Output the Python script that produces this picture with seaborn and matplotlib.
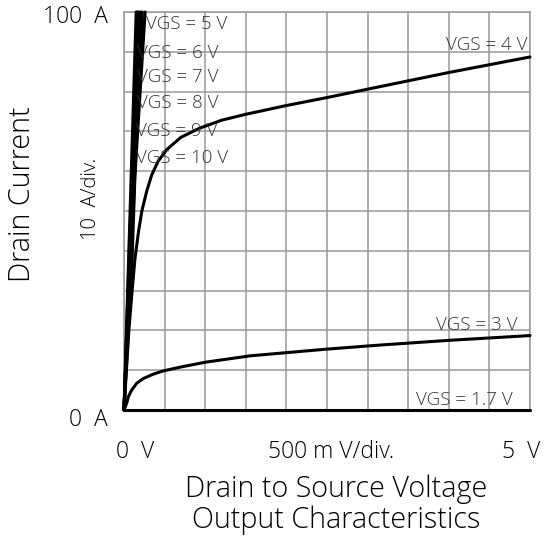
import numpy as np
import pandas as pd
import matplotlib
matplotlib.use("Agg")
import matplotlib.pyplot as plt
import seaborn as sns

# ---- data ----
vgs4_v = [0, 0.03, 0.06, 0.10, 0.135, 0.18, 0.22, 0.28, 0.34, 0.42, 0.53, 0.70, 0.93, 1.20, 1.50, 2.0, 2.5, 3.14, 4.0, 5.0]
vgs4_i = [0, 10, 20, 30, 38, 45, 50, 55, 59, 62.5, 65.5, 68.5, 70.8, 72.8, 74.3, 76.5, 78.5, 81.2, 84.8, 88.7]

vgs3_v = [0, 0.015, 0.033, 0.053, 0.094, 0.156, 0.237, 0.36, 0.48, 0.70, 1.0, 1.55, 2.5, 3.14, 4.0, 5.0]
vgs3_i = [0, 0.8, 1.7, 3.3, 5.0, 6.7, 7.9, 9.0, 9.8, 10.8, 12.0, 13.6, 15.3, 16.3, 17.5, 18.7]

vgs17_v = [0, 5.0]
vgs17_i = [0, 0]

steep_v = {"5": [0, 0.10, 0.135, 0.26], "6": [0, 0.225], "7": [0, 0.20],
           "8": [0, 0.18], "9": [0, 0.165], "10": [0, 0.15]}
steep_i = {"5": [0, 38, 59, 100], "6": [0, 100], "7": [0, 100],
           "8": [0, 100], "9": [0, 100], "10": [0, 100]}

# ---- build long-form table ----
rows = []
for k in steep_v:
    for v, i in zip(steep_v[k], steep_i[k]):
        rows.append((f"VGS = {k} V", v, i))
for v, i in zip(vgs4_v, vgs4_i):
    rows.append(("VGS = 4 V", v, i))
for v, i in zip(vgs3_v, vgs3_i):
    rows.append(("VGS = 3 V", v, i))
for v, i in zip(vgs17_v, vgs17_i):
    rows.append(("VGS = 1.7 V", v, i))
df = pd.DataFrame(rows, columns=["VGS", "V", "I"])

sns.set_theme(style="white")
plt.rcParams["font.family"] = ["Open Sans", "DejaVu Sans"]
plt.rcParams["font.weight"] = "light"

W, H = 548, 537
fig = plt.figure(figsize=(W / 100, H / 100), dpi=100)
L, R, T, B = 124, 530, 12, 410
ax = fig.add_axes([L / W, 1 - B / H, (R - L) / W, (B - T) / H])

sns.lineplot(data=df, x="V", y="I", hue="VGS", units="VGS", estimator=None, sort=False,
             palette=["black"] * df["VGS"].nunique(), legend=False, linewidth=2.2, ax=ax)
for ln in ax.lines:
    ln.set_clip_on(False)
    ln.set_zorder(3)

ax.set_xlim(0, 5)
ax.set_ylim(0, 100)
ax.set_xticks(np.arange(0, 5.01, 0.5))
ax.set_yticks(np.arange(0, 100.1, 10))
ax.set_xticklabels([])
ax.set_yticklabels([])
ax.tick_params(length=0)
ax.grid(True, color="#999999", linewidth=1.1)
ax.set_axisbelow(True)
for s in ax.spines.values():
    s.set_color("#999999")
    s.set_linewidth(1.1)
ax.set_xlabel("")
ax.set_ylabel("")

def ftext(x, y, s, **kw):
    fig.text(x / W, 1 - y / H, s, **kw)

lab_col = "#333333"
lab_fs = 13.5
# left-aligned labels for steep curves: (label, left x, center y)
for lab, x, y in [("VGS = 5 V", 146, 24), ("VGS = 6 V", 137, 53), ("VGS = 7 V", 137, 77),
                  ("VGS = 8 V", 137, 103), ("VGS = 9 V", 136, 131), ("VGS = 10 V", 136, 158)]:
    ftext(x, y, lab, ha="left", va="center", fontsize=lab_fs, color=lab_col, zorder=2)
for lab, x, y in [("VGS = 4 V", 527, 45), ("VGS = 3 V", 517, 325), ("VGS = 1.7 V", 513, 400)]:
    ftext(x, y, lab, ha="right", va="center", fontsize=lab_fs, color=lab_col, zorder=2)

tick_fs = 16.5
ftext(108, 17, "100  A", ha="right", va="center", fontsize=tick_fs, color="black")
ftext(108, 420, "0  A", ha="right", va="center", fontsize=tick_fs, color="black")
ftext(135, 452.5, "0  V", ha="center", va="center", fontsize=tick_fs, color="black")
ftext(331, 452.5, "500 m V/div.", ha="center", va="center", fontsize=tick_fs, color="black")
ftext(521.5, 452.5, "5  V", ha="center", va="center", fontsize=tick_fs, color="black")
ftext(91, 199, "10  A/div.", ha="center", va="center", rotation=90, fontsize=14.5, color="black")

lbl_fs = 20.7
ftext(22, 194, "Drain Current", ha="center", va="center", rotation=90, fontsize=lbl_fs, color="black")
ftext(336, 489, "Drain to Source Voltage", ha="center", va="center", fontsize=lbl_fs, color="black")
ftext(336, 520, "Output Characteristics", ha="center", va="center", fontsize=lbl_fs, color="black")

fig.savefig("out.png", dpi=100)
